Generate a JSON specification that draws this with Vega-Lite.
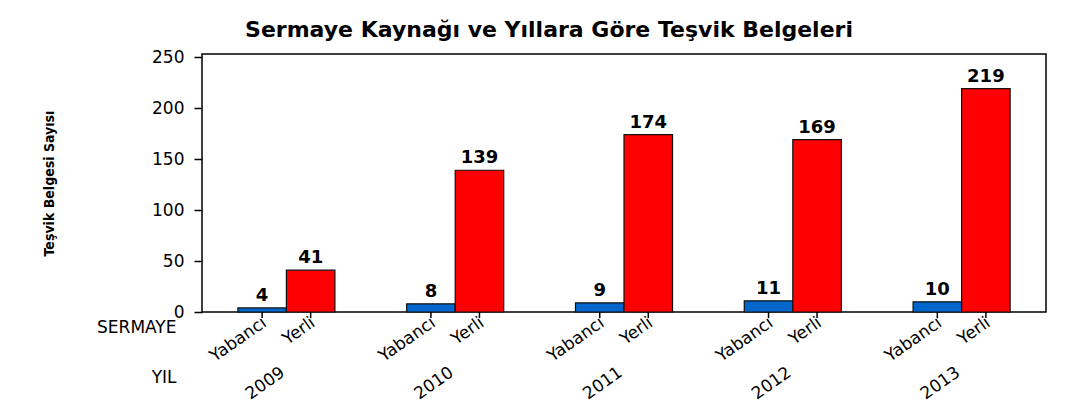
{
  "$schema": "https://vega.github.io/schema/vega-lite/v6.json",
  "width": 844,
  "height": 258,
  "autosize": {"type": "none"},
  "padding": {"left": 202, "top": 54, "right": 46, "bottom": 107},
  "background": "white",
  "config": {
    "font": "DejaVu Sans",
    "view": {"stroke": "#000000", "strokeWidth": 1.5}
  },
  "title": {
    "text": "Sermaye Kaynağı ve Yıllara Göre Teşvik Belgeleri",
    "font": "DejaVu Sans",
    "fontSize": 22,
    "fontWeight": "bold",
    "color": "#000000",
    "anchor": "middle",
    "frame": "group",
    "baseline": "alphabetic",
    "dx": -75,
    "offset": -11
  },
  "data": {
    "values": [
      {"yil": "2009", "tip": "Yabancı", "sayi": 4},
      {"yil": "2009", "tip": "Yerli", "sayi": 41},
      {"yil": "2010", "tip": "Yabancı", "sayi": 8},
      {"yil": "2010", "tip": "Yerli", "sayi": 139},
      {"yil": "2011", "tip": "Yabancı", "sayi": 9},
      {"yil": "2011", "tip": "Yerli", "sayi": 174},
      {"yil": "2012", "tip": "Yabancı", "sayi": 11},
      {"yil": "2012", "tip": "Yerli", "sayi": 169},
      {"yil": "2013", "tip": "Yabancı", "sayi": 10},
      {"yil": "2013", "tip": "Yerli", "sayi": 219}
    ]
  },
  "encoding": {
    "x": {
      "field": "yil",
      "type": "nominal",
      "scale": {"paddingInner": 0.425, "paddingOuter": 0.2125},
      "axis": {
        "labelAngle": -35,
        "labelAlign": "right",
        "labelBaseline": "top",
        "labelPadding": 52,
        "labelOffset": -8,
        "labelFontSize": 17,
        "labelColor": "#000000",
        "ticks": false,
        "domain": false,
        "grid": false,
        "title": ["SERMAYE", "YIL"],
        "titleFontSize": 17,
        "titleFontWeight": "normal",
        "titleColor": "#000000",
        "titleAlign": "right",
        "titleBaseline": "alphabetic",
        "titleLineHeight": 50,
        "titleX": -26,
        "titleY": 20
      }
    },
    "xOffset": {
      "field": "tip",
      "type": "nominal",
      "scale": {"domain": ["Yabancı", "Yerli"], "paddingInner": 0, "paddingOuter": 0}
    }
  },
  "layer": [
    {
      "mark": {"type": "bar", "stroke": "#111111", "strokeWidth": 1.2},
      "encoding": {
        "y": {
          "field": "sayi",
          "type": "quantitative",
          "scale": {"domain": [0, 253], "nice": false},
          "axis": {
            "values": [0, 50, 100, 150, 200, 250],
            "tickSize": 8,
            "tickColor": "#000000",
            "tickWidth": 1.5,
            "labelPadding": 10,
            "labelFontSize": 17,
            "labelColor": "#000000",
            "domain": false,
            "grid": false,
            "title": "Teşvik Belgesi Sayısı",
            "titleFont": "DejaVu Sans Condensed",
            "titleFontSize": 14,
            "titleFontWeight": "bold",
            "titleColor": "#000000",
            "titleAngle": -90,
            "titleAlign": "center",
            "titleBaseline": "middle",
            "titleX": -153,
            "titleY": 129
          }
        },
        "color": {
          "field": "tip",
          "type": "nominal",
          "scale": {"domain": ["Yabancı", "Yerli"], "range": ["#0066CC", "#FF0000"]},
          "legend": null
        }
      }
    },
    {
      "mark": {"type": "text", "fontWeight": "bold", "fontSize": 18, "dy": -7, "baseline": "alphabetic", "color": "#000000"},
      "encoding": {
        "y": {"field": "sayi", "type": "quantitative"},
        "text": {"field": "sayi", "type": "quantitative"}
      }
    },
    {
      "mark": {"type": "rule", "stroke": "#000000", "strokeWidth": 1.5},
      "encoding": {
        "y": {"datum": 0},
        "y2": {"datum": -6}
      }
    },
    {
      "mark": {"type": "text", "angle": -35, "align": "right", "baseline": "top", "dx": -3, "dy": 1, "fontSize": 17, "color": "#000000"},
      "encoding": {
        "y": {"datum": 0},
        "text": {"field": "tip", "type": "nominal"}
      }
    }
  ]
}
